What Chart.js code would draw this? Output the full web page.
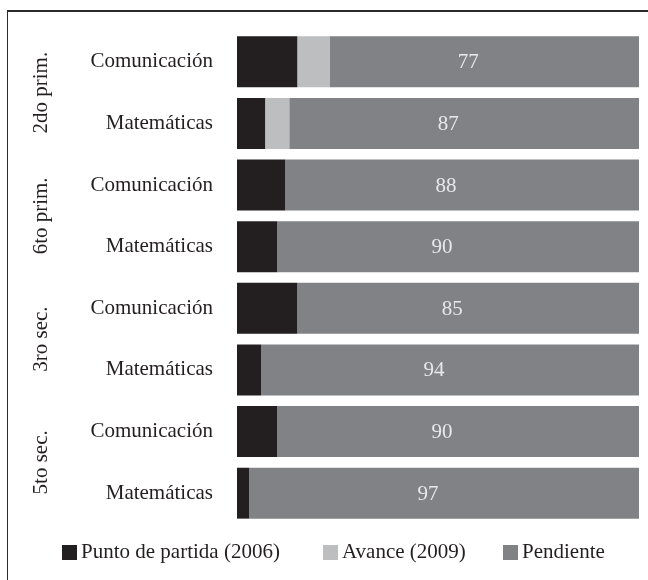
<!DOCTYPE html>
<html lang="es">
<head>
<meta charset="utf-8">
<title>Avance por grado y área</title>
<script src="https://cdn.jsdelivr.net/npm/chart.js@4/dist/chart.umd.min.js"></script>
<style>
  html, body { margin: 0; padding: 0; background: #fff; overflow: hidden; }
  #contenedor { position: relative; width: 648px; height: 580px; }
  #marco {
    position: absolute; left: 7px; top: 10px; width: 700px; height: 640px;
    border-top: 2px solid #2b2b2b; border-left: 1px solid #2b2b2b;
  }
  canvas { position: absolute; left: 0; top: 0; }
</style>
</head>
<body>
<div id="contenedor">
  <div id="marco"></div>
  <canvas id="grafica" width="648" height="580"></canvas>
</div>
<script>
const grupos = ['2do prim.', '6to prim.', '3ro sec.', '5to sec.'];
const areas = ['Comunicación', 'Matemáticas', 'Comunicación', 'Matemáticas',
               'Comunicación', 'Matemáticas', 'Comunicación', 'Matemáticas'];
const puntoPartida = [15, 7, 12, 10, 15, 6, 10, 3];
const avance = [8, 6, 0, 0, 0, 0, 0, 0];
const pendiente = [77, 87, 88, 90, 85, 94, 90, 97];

const fuente = '"Liberation Serif", "Times New Roman", serif';
const colores = ['#231f20', '#bcbec0', '#808285'];

// nombres de grado, girados, a la izquierda de cada par de barras
const etiquetasGrupo = {
  id: 'etiquetasGrupo',
  afterDraw(chart) {
    const ctx = chart.ctx;
    const y = chart.scales.y;
    ctx.save();
    ctx.font = '21px ' + fuente;
    ctx.fillStyle = '#231f20';
    ctx.textAlign = 'center';
    ctx.textBaseline = 'middle';
    grupos.forEach((g, i) => {
      const centro = (y.getPixelForValue(i * 2) + y.getPixelForValue(i * 2 + 1)) / 2;
      ctx.save();
      ctx.translate(41, centro);
      ctx.rotate(-Math.PI / 2);
      ctx.fillText(g, 0, 0);
      ctx.restore();
    });
    ctx.restore();
  }
};

// valor de "Pendiente" escrito dentro de su barra
const valoresPendiente = {
  id: 'valoresPendiente',
  afterDatasetsDraw(chart) {
    const ctx = chart.ctx;
    const meta = chart.getDatasetMeta(2);
    ctx.save();
    ctx.font = '21px ' + fuente;
    ctx.fillStyle = '#e8e8ea';
    ctx.textAlign = 'center';
    ctx.textBaseline = 'middle';
    meta.data.forEach((barra, i) => {
      const cx = (barra.x + barra.base) / 2 - 16;
      ctx.fillText(pendiente[i], cx, barra.y + 1);
    });
    ctx.restore();
  }
};

// leyenda propia: cuadrado pegado al texto
const posLeyenda = [62, 323, 503];
const leyenda = {
  id: 'leyenda',
  afterDraw(chart) {
    const ctx = chart.ctx;
    ctx.save();
    ctx.font = '21px ' + fuente;
    ctx.textBaseline = 'middle';
    const yc = 552;
    chart.data.datasets.forEach((ds, i) => {
      const x = posLeyenda[i];
      ctx.fillStyle = ds.backgroundColor;
      ctx.fillRect(x, yc - 7, 15, 15);
      ctx.fillStyle = '#231f20';
      ctx.fillText(ds.label, x + 19, yc);
    });
    ctx.restore();
  }
};

new Chart(document.getElementById('grafica'), {
  type: 'bar',
  data: {
    labels: areas,
    datasets: [
      { label: 'Punto de partida (2006)', data: puntoPartida, backgroundColor: colores[0] },
      { label: 'Avance (2009)', data: avance, backgroundColor: colores[1] },
      { label: 'Pendiente', data: pendiente, backgroundColor: colores[2] }
    ]
  },
  options: {
    indexAxis: 'y',
    responsive: false,
    animation: false,
    categoryPercentage: 1,
    barPercentage: 0.826,
    layout: { padding: { left: 0, right: 9, top: 31, bottom: 56 } },
    scales: {
      x: {
        stacked: true, min: 0, max: 100, display: false
      },
      y: {
        stacked: true,
        grid: { display: false },
        border: { display: false },
        ticks: {
          padding: 16,
          color: '#231f20',
          font: { family: fuente, size: 21 }
        },
        afterFit(scale) {
          scale.width = 237;
          scale.paddingTop = 0;
          scale.paddingBottom = 0;
        }
      }
    },
    plugins: {
      legend: { display: false },
      tooltip: { enabled: false }
    }
  },
  plugins: [etiquetasGrupo, valoresPendiente, leyenda]
});
</script>
</body>
</html>
